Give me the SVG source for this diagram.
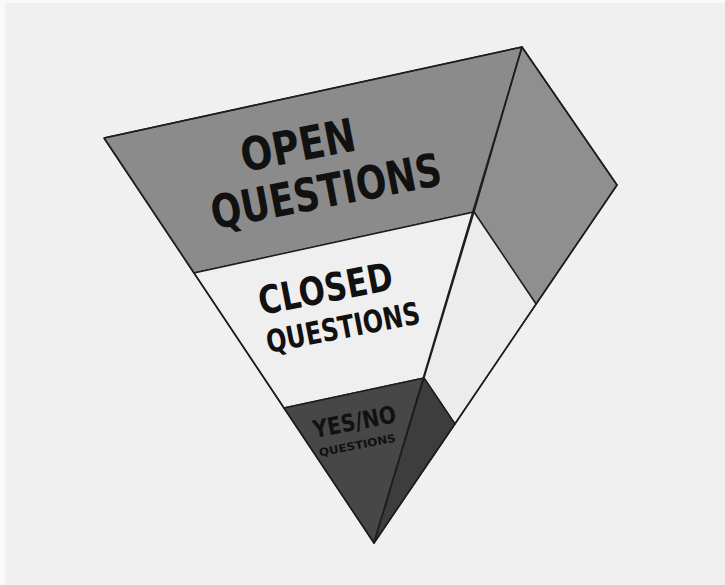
<svg xmlns="http://www.w3.org/2000/svg" width="725" height="585" viewBox="0 0 725 585">
<style>
.edge{stroke:#1e1e1e;stroke-width:1.6;stroke-linejoin:round;fill:none}
.face{stroke:#1e1e1e;stroke-width:1.4;stroke-linejoin:round}
.lbl{font-family:"DejaVu Sans Condensed","DejaVu Sans","Liberation Sans",sans-serif;font-weight:bold;fill:#111;text-anchor:middle}
</style>
<rect x="0" y="0" width="725" height="585" fill="#fafafa"/>
<rect x="5" y="3" width="720" height="582" fill="#f0f0f0"/>
<g id="layer-open">
<polygon class="face" points="104,138 522,47 474,212 194,273" fill="#8b8b8b"/>
<polygon class="face" points="522,47 617,185 536,304 474,212" fill="#8f8f8f"/>
<text class="lbl" font-size="46" textLength="116" lengthAdjust="spacingAndGlyphs" transform="translate(301,161) rotate(-11)">OPEN</text>
<text class="lbl" font-size="46" textLength="234" lengthAdjust="spacingAndGlyphs" transform="translate(329,207) rotate(-11)">QUESTIONS</text>
</g>
<g id="layer-closed">
<polygon class="face" points="194,273 474,212 424,378 284,408" fill="#efefef"/>
<polygon class="face" points="474,212 536,304 455,424 424,378" fill="#ececec"/>
<text class="lbl" font-size="39" textLength="136" lengthAdjust="spacingAndGlyphs" transform="translate(328,302) rotate(-11)">CLOSED</text>
<text class="lbl" font-size="31" textLength="156" lengthAdjust="spacingAndGlyphs" transform="translate(345,338) rotate(-11)">QUESTIONS</text>
</g>
<g id="layer-yesno">
<polygon class="face" points="284,408 424,378 374,543" fill="#474747"/>
<polygon class="face" points="424,378 455,424 374,543" fill="#3d3d3d"/>
<text class="lbl" font-size="24" textLength="84" lengthAdjust="spacingAndGlyphs" transform="translate(356,430) rotate(-11)">YES/NO</text>
<text class="lbl" font-size="11" textLength="78" lengthAdjust="spacingAndGlyphs" transform="translate(358,449) rotate(-11)">QUESTIONS</text>
</g>
<g id="connectors">
<polyline class="edge" points="104,138 522,47 617,185 374,543 104,138"/>
<line class="edge" x1="522" y1="47" x2="374" y2="543"/>
</g>
</svg>
